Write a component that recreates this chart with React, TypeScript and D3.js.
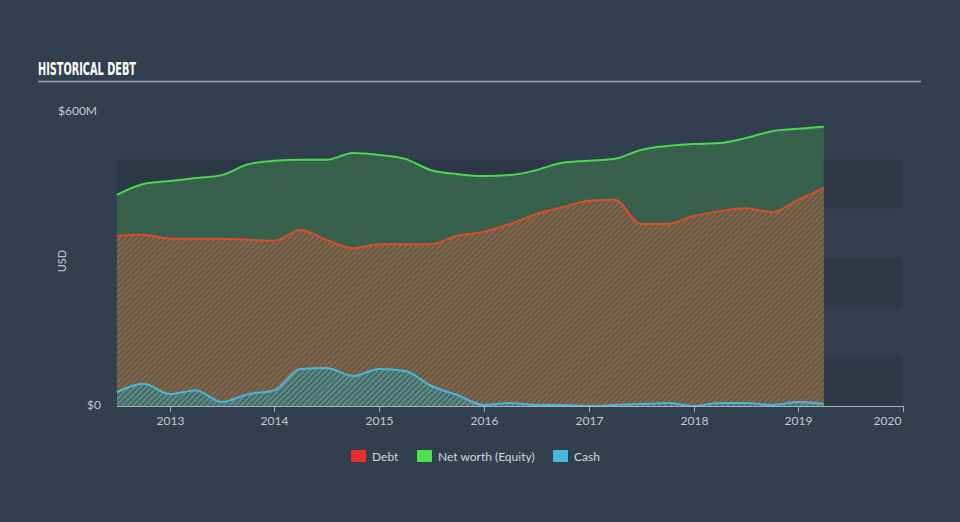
import * as d3 from "d3";

// quarterly points, mid-2012 to Q1 2019 (values in $M)
const dates = [
  "2012-07-01", "2012-10-01", "2013-01-01", "2013-04-01", "2013-07-01", "2013-10-01",
  "2014-01-01", "2014-04-01", "2014-07-01", "2014-10-01", "2015-01-01", "2015-04-01",
  "2015-07-01", "2015-10-01", "2016-01-01", "2016-04-01", "2016-07-01", "2016-10-01",
  "2017-01-01", "2017-04-01", "2017-07-01", "2017-10-01", "2018-01-01", "2018-04-01",
  "2018-07-01", "2018-10-01", "2019-01-01", "2019-03-31",
];
const equity = [
  428, 450, 456, 462, 468, 490, 497, 499, 499, 513, 509, 501, 478, 470,
  466, 468, 478, 493, 497, 501, 519, 527, 531, 533, 543, 557, 562, 566,
];
const debt = [
  345, 347, 339, 339, 339, 337, 335, 357, 337, 320, 328, 328, 328, 345,
  353, 369, 389, 403, 416, 418, 369, 369, 385, 395, 401, 393, 418, 442,
];
const cash = [
  28, 45, 24, 32, 8, 24, 32, 75, 77, 61, 75, 71, 41, 22,
  2, 6, 2, 2, 0, 2, 4, 6, 0, 6, 6, 2, 8, 4,
];
const yearTicks = [2013, 2014, 2015, 2016, 2017, 2018, 2019, 2020];
const bands = [
  [0, 100],
  [200, 300],
  [400, 500],
];
const legend = [
  { label: "Debt", color: "#ec2e2c" },
  { label: "Net worth (Equity)", color: "#4fe04f" },
  { label: "Cash", color: "#47b9dd" },
];

const W = 960;
const H = 522;
const FONT = "Lato, 'Open Sans', sans-serif";

export default function App() {
  const parsed = dates.map((d) => new Date(d + "T00:00:00"));
  const x = d3
    .scaleTime()
    .domain([new Date("2012-07-01T00:00:00"), new Date("2020-01-01T00:00:00")])
    .range([117, 903]);
  const y = d3.scaleLinear().domain([0, 600]).range([406, 110]);

  const area = (vals: number[]) =>
    d3
      .area<number>()
      .x((_, i) => x(parsed[i]))
      .y0(y(0))
      .y1((v) => y(v))
      .curve(d3.curveMonotoneX)(vals) ?? "";
  const line = (vals: number[]) =>
    d3
      .line<number>()
      .x((_, i) => x(parsed[i]))
      .y((v) => y(v))
      .curve(d3.curveMonotoneX)(vals) ?? "";

  return (
    <div style={{ position: "fixed", left: 0, top: 0, width: W, height: H }}>
      <svg width={W} height={H} style={{ display: "block", fontFamily: FONT }}>
        <defs>
          <pattern id="debtHatch" width={4} height={4} patternUnits="userSpaceOnUse" patternTransform="rotate(45)">
            <rect width={4} height={4} fill="#446652" />
            <rect width={2} height={4} fill="#a65a3d" />
          </pattern>
          <pattern id="cashHatch" width={4} height={4} patternUnits="userSpaceOnUse" patternTransform="rotate(45)">
            <rect width={4} height={4} fill="#466a60" />
            <rect width={2} height={4} fill="#5f8a90" />
          </pattern>
        </defs>
        <rect width={W} height={H} fill="#323f4f" />

        {/* title */}
        <text
          x={38}
          y={75}
          fill="#ffffff"
          fontFamily="'DejaVu Sans', sans-serif"
          fontWeight="bold"
          fontSize={18}
          textLength={98}
          lengthAdjust="spacingAndGlyphs"
        >
          HISTORICAL DEBT
        </text>
        <line x1={38} x2={921} y1={81.5} y2={81.5} stroke="#9aa4ae" strokeWidth={1.5} />

        {/* bands */}
        {bands.map(([a, b]) => (
          <rect key={a} x={117} width={785} y={y(b)} height={y(a) - y(b)} fill="#2e3948" />
        ))}

        {/* areas */}
        <path d={area(equity)} fill="#37614d" />
        <path d={area(debt)} fill="url(#debtHatch)" />
        <path d={area(cash)} fill="url(#cashHatch)" />

        {/* lines */}
        <path d={line(equity)} fill="none" stroke="#4bd750" strokeWidth={2} />
        <path d={line(debt)} fill="none" stroke="#dd4c2c" strokeWidth={2} />
        <path d={line(cash)} fill="none" stroke="#4bb7d6" strokeWidth={2} />

        {/* y labels */}
        <text x={58} y={115} fill="#c4cad0" fontSize={12}>
          $600M
        </text>
        <text x={101} y={409} fill="#c4cad0" fontSize={12} textAnchor="end">
          $0
        </text>
        <text
          transform="translate(66,261) rotate(-90)"
          fill="#c4cad0"
          fontSize={11}
          textAnchor="middle"
        >
          USD
        </text>

        {/* x axis */}
        <line x1={117} x2={903} y1={406.5} y2={406.5} stroke="#a8b0ba" strokeWidth={1} />
        {yearTicks.map((yr) => {
          const px = Math.round(x(new Date(`${yr}-01-01T00:00:00`))) + 0.5;
          return (
            <g key={yr}>
              <line x1={px} x2={px} y1={406} y2={412} stroke="#a8b0ba" />
              <text
                x={yr === 2020 ? px - 16 : px}
                y={425}
                fill="#c4cad0"
                fontSize={12}
                textAnchor="middle"
              >
                {yr}
              </text>
            </g>
          );
        })}

        {/* legend */}
        {legend.map((l, i) => {
          const lx = [351, 417, 553][i];
          return (
            <g key={l.label}>
              <rect x={lx} y={450} width={15} height={12} fill={l.color} />
              <text x={lx + 21} y={460.5} fill="#d2d6da" fontSize={12}>
                {l.label}
              </text>
            </g>
          );
        })}
      </svg>
    </div>
  );
}
